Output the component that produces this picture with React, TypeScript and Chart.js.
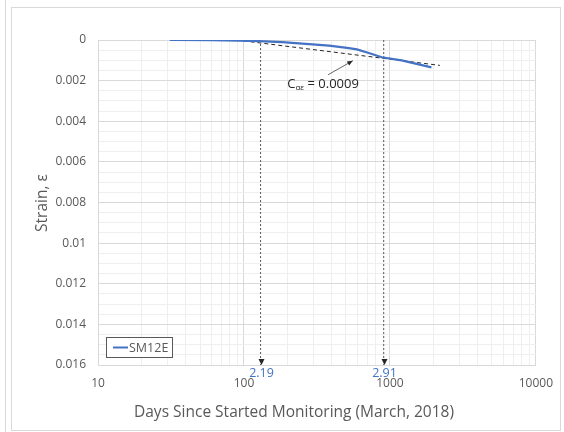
import React, { useEffect, useRef } from "react";
import { Chart, registerables } from "chart.js";

Chart.register(...registerables);

// Monitoring record for SM12E
const days = [31, 60, 93, 127, 183, 279, 383, 524, 594, 717, 879, 1203, 1926];
const strain = [0, 0.00001, 0.00003, 0.00006, 0.00011, 0.0002, 0.00028, 0.0004, 0.00046, 0.00064, 0.00085, 0.001, 0.00135];

// Secondary compression fit line (slope 0.0009 per log cycle)
const fitDays = [89, 2200];
const fitStrain = [0, 0.00125];

// Reference time markers
const markerDays = [130, 907];
const markerLabels = ["2.19", "2.91"];

// Annotation for the fit slope: text anchor and arrow (tail -> tip), in data units
const slopeText = { days: 198, strain: 0.00235, main: "C", sub: "αε", rest: " = 0.0009" };
const arrowTail = { days: 377, strain: 0.00171 };
const arrowTip = { days: 557, strain: 0.00102 };

const xTickValues = [10, 20, 30, 40, 50, 60, 70, 80, 90, 100, 200, 300, 400, 500, 600, 700, 800, 900, 1000, 2000, 3000, 4000, 5000, 6000, 7000, 8000, 9000, 10000];
const xMajor = [10, 100, 1000, 10000];

const FONT = "'Open Sans', 'DejaVu Sans', sans-serif";
const TEXT = "#595959";
const BLUE = "#4472C4";

const framePlugin = {
  id: "frame",
  beforeDraw(chart: any) {
    const ctx = chart.ctx;
    ctx.save();
    ctx.fillStyle = "#ffffff";
    ctx.fillRect(0, 0, chart.width, chart.height);
    ctx.strokeStyle = "#d9d9d9";
    ctx.lineWidth = 1;
    ctx.beginPath();
    ctx.moveTo(5.5, 0);
    ctx.lineTo(5.5, chart.height);
    ctx.stroke();
    ctx.strokeRect(11.5, 7.5, 549, 423);
    ctx.restore();
  },
};

const overlayPlugin = {
  id: "overlay",
  afterDatasetsDraw(chart: any) {
    const ctx = chart.ctx;
    const xs = chart.scales.x;
    const ys = chart.scales.y;
    const area = chart.chartArea;
    ctx.save();

    // marker arrowheads and labels
    markerDays.forEach((d, i) => {
      const px = Math.round(xs.getPixelForValue(d)) + 0.5;
      const by = area.bottom;
      ctx.fillStyle = "#262626";
      ctx.beginPath();
      ctx.moveTo(px, by);
      ctx.lineTo(px - 3, by - 6);
      ctx.lineTo(px + 3, by - 6);
      ctx.closePath();
      ctx.fill();
      ctx.fillStyle = BLUE;
      ctx.font = `12.5px ${FONT}`;
      ctx.textAlign = "center";
      ctx.textBaseline = "middle";
      ctx.fillText(markerLabels[i], px, by + 8);
    });

    // slope annotation arrow
    const tx = xs.getPixelForValue(arrowTail.days);
    const ty = ys.getPixelForValue(arrowTail.strain);
    const hx = xs.getPixelForValue(arrowTip.days);
    const hy = ys.getPixelForValue(arrowTip.strain);
    ctx.strokeStyle = "#404040";
    ctx.lineWidth = 0.8;
    ctx.beginPath();
    ctx.moveTo(tx, ty);
    ctx.lineTo(hx, hy);
    ctx.stroke();
    const ang = Math.atan2(hy - ty, hx - tx);
    ctx.fillStyle = "#262626";
    ctx.beginPath();
    ctx.moveTo(hx, hy);
    ctx.lineTo(hx - 6 * Math.cos(ang - 0.4), hy - 6 * Math.sin(ang - 0.4));
    ctx.lineTo(hx - 6 * Math.cos(ang + 0.4), hy - 6 * Math.sin(ang + 0.4));
    ctx.closePath();
    ctx.fill();

    // slope text with subscript
    let x = xs.getPixelForValue(slopeText.days);
    const y = ys.getPixelForValue(slopeText.strain);
    ctx.fillStyle = "#262626";
    ctx.textAlign = "left";
    ctx.textBaseline = "alphabetic";
    ctx.font = `13px ${FONT}`;
    ctx.fillText(slopeText.main, x, y);
    x += ctx.measureText(slopeText.main).width;
    ctx.font = `8px ${FONT}`;
    ctx.fillText(slopeText.sub, x, y + 2);
    x += ctx.measureText(slopeText.sub).width;
    ctx.font = `13px ${FONT}`;
    ctx.fillText(slopeText.rest, x, y);

    // legend box
    const ds = chart.data.datasets[0];
    ctx.fillStyle = "#ffffff";
    ctx.fillRect(106, 337, 66, 20);
    ctx.strokeStyle = "#595959";
    ctx.lineWidth = 1;
    ctx.strokeRect(106.5, 337.5, 66, 20);
    ctx.strokeStyle = ds.borderColor;
    ctx.lineWidth = 2;
    ctx.beginPath();
    ctx.moveTo(113, 347.5);
    ctx.lineTo(128, 347.5);
    ctx.stroke();
    ctx.fillStyle = TEXT;
    ctx.font = `12.5px ${FONT}`;
    ctx.textBaseline = "middle";
    ctx.fillText(ds.label, 129, 348);

    // axis titles
    ctx.fillStyle = TEXT;
    ctx.font = `15.5px ${FONT}`;
    ctx.textAlign = "center";
    ctx.textBaseline = "middle";
    ctx.fillText("Days Since Started Monitoring (March, 2018)", 294, 413);
    ctx.save();
    ctx.translate(43, 203);
    ctx.rotate(-Math.PI / 2);
    ctx.fillText("Strain, ε", 0, 0);
    ctx.restore();

    ctx.restore();
  },
};

export default function App() {
  const ref = useRef<HTMLCanvasElement | null>(null);

  useEffect(() => {
    if (!ref.current) return;
    const markerSets = markerDays.map((d) => ({
      label: "marker",
      data: [
        { x: d, y: 0 },
        { x: d, y: 0.016 },
      ],
      borderColor: "#595959",
      borderWidth: 1,
      borderDash: [2, 2],
      pointRadius: 0,
    }));
    const chart = new Chart(ref.current, {
      type: "line",
      data: {
        datasets: [
          {
            label: "SM12E",
            data: days.map((d, i) => ({ x: d, y: strain[i] })),
            borderColor: BLUE,
            borderWidth: 2.25,
            pointRadius: 0,
            tension: 0,
          },
          {
            label: "fit",
            data: fitDays.map((d, i) => ({ x: d, y: fitStrain[i] })),
            borderColor: "#262626",
            borderWidth: 1,
            borderDash: [4, 3],
            pointRadius: 0,
          },
          ...markerSets,
        ],
      },
      options: {
        responsive: false,
        animation: false,
        events: [],
        layout: { padding: { left: 0, top: 40, right: 26, bottom: 0 } },
        plugins: { legend: { display: false }, tooltip: { enabled: false } },
        scales: {
          x: {
            type: "logarithmic",
            min: 10,
            max: 10000,
            afterBuildTicks: (scale: any) => {
              scale.ticks = xTickValues.map((v) => ({ value: v }));
            },
            afterFit: (scale: any) => {
              scale.height = 67;
            },
            ticks: {
              autoSkip: false,
              maxRotation: 0,
              padding: 11,
              color: TEXT,
              font: { family: FONT, size: 12 },
              callback: (v: any) => (xMajor.includes(Number(v)) ? String(v) : ""),
            },
            grid: {
              drawTicks: false,
              color: (c: any) => (c.tick && xMajor.includes(c.tick.value) ? "#d9d9d9" : "#efefef"),
            },
            border: { display: true, color: "#d9d9d9" },
          },
          y: {
            type: "linear",
            reverse: true,
            min: 0,
            max: 0.016,
            afterFit: (scale: any) => {
              scale.width = 98;
            },
            ticks: {
              stepSize: 0.0005,
              autoSkip: false,
              padding: 12,
              color: TEXT,
              font: { family: FONT, size: 12 },
              callback: (v: any) => {
                const n = Math.round(Number(v) / 0.0005);
                return n % 4 === 0 ? String(parseFloat(Number(v).toFixed(4))) : "";
              },
            },
            grid: {
              drawTicks: false,
              color: (c: any) => (c.tick && Math.round(c.tick.value / 0.0005) % 4 === 0 ? "#d9d9d9" : "#efefef"),
            },
            border: { display: true, color: "#d9d9d9" },
          },
        },
      },
      plugins: [framePlugin, overlayPlugin],
    } as any);
    return () => chart.destroy();
  }, []);

  return (
    <div style={{ position: "absolute", left: 0, top: 0, width: 564, height: 432 }}>
      <canvas ref={ref} width={564} height={432} style={{ display: "block" }} />
    </div>
  );
}
